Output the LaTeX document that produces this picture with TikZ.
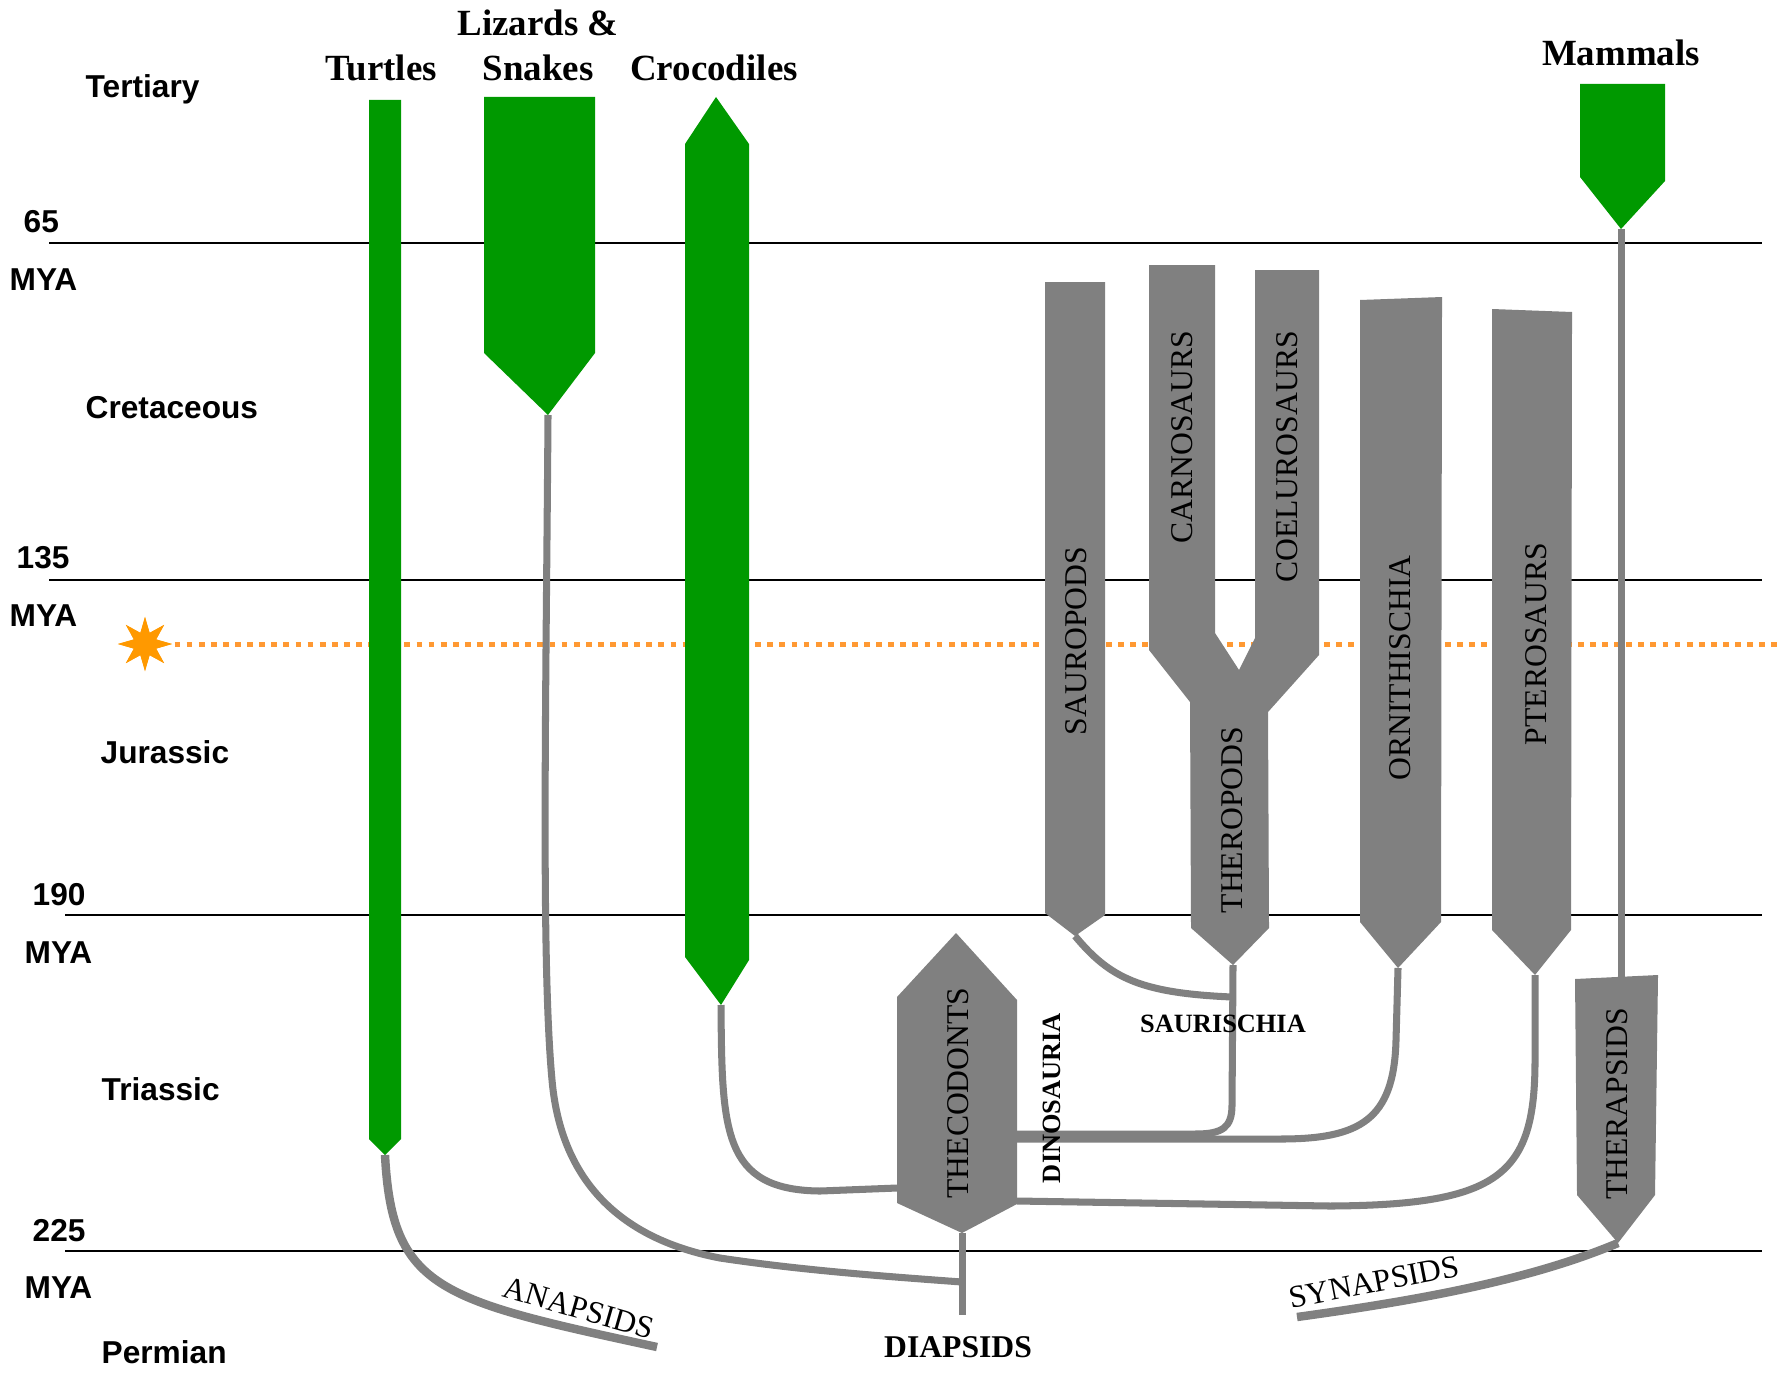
\documentclass[tikz,border=0pt]{standalone}
\usepackage{fontspec}
\setmainfont{Liberation Serif}
\setsansfont{Liberation Sans}
\usetikzlibrary{shapes.geometric}
\definecolor{grn}{HTML}{009900}
\definecolor{gry}{HTML}{808080}
\definecolor{dotor}{HTML}{FF9933}
\definecolor{staror}{HTML}{FF9900}
\begin{document}
\begin{tikzpicture}[x=0.01cm,y=-0.01cm,
  era/.style={font=\sffamily\bfseries\fontsize{9}{10}\selectfont, anchor=base west, inner sep=0},
  title/.style={font=\bfseries\fontsize{10.5}{12}\selectfont, anchor=base, inner sep=0},
  grp/.style={font=\fontsize{9}{10}\selectfont, rotate=90, inner sep=0},
  bgrp/.style={font=\bfseries\fontsize{7.5}{9}\selectfont, inner sep=0},
  tline/.style={black, line width=0.5pt},
  conn/.style={gry, line width=2pt},
  thickconn/.style={gry, line width=2.4pt},
  greenbar/.style={fill=grn},
  graybar/.style={fill=gry},
  dotline/.style={dotor, line width=1.42pt, dash pattern=on 1.65pt off 1.79pt},
]
% canvas
\fill[white] (0,0) rectangle (1777,1376);
\useasboundingbox (0,0) rectangle (1777,1376);

% time lines
\coordinate (l65a) at (49,243);   \coordinate (l65b) at (1762,243);
\coordinate (l135a) at (49,580);  \coordinate (l135b) at (1762,580);
\coordinate (l190a) at (65,915);  \coordinate (l190b) at (1762,915);
\coordinate (l225a) at (65,1251); \coordinate (l225b) at (1762,1251);
\draw[tline] (l65a) -- (l65b);
\draw[tline] (l135a) -- (l135b);
\draw[tline] (l190a) -- (l190b);
\draw[tline] (l225a) -- (l225b);

% extinction marker
\coordinate (dotEnd) at (1777,644);
\node[star, star points=8, star point ratio=2.25, fill=staror, minimum size=0.54cm, inner sep=0] (sun) at (145,644) {};
\draw[dotline] (sun.east) -- (dotEnd);
\node[star, star points=8, star point ratio=2.25, fill=staror, minimum size=0.54cm, inner sep=0] at (sun) {};

% key points
\coordinate (turtleTip) at (385,1155);
\coordinate (lizTip) at (548,415);
\coordinate (crocTip) at (721,1005);
\coordinate (mamTip) at (1621,229);
\coordinate (sauTip) at (1075,936);
\coordinate (theTip) at (1233,965);
\coordinate (ornTip) at (1398,968);
\coordinate (ptTip) at (1535,975);
\coordinate (thpTop) at (1621,977);
\coordinate (thpTip) at (1618,1243);
\coordinate (thcBot) at (962,1233);
\coordinate (thcL) at (897,1188);
\coordinate (thcR1) at (1017,1134);
\coordinate (thcR1b) at (1017,1139);
\coordinate (thcR2) at (1017,1201);
\coordinate (diapEnd) at (962,1315);
\coordinate (diapJoin) at (962,1282);
\coordinate (anaEnd) at (657,1347);
\coordinate (synStart) at (1297,1317);
\coordinate (sauJoin) at (1232,997);

% connectors
\draw[thickconn] (turtleTip) .. controls (392,1290) and (440,1300) .. (anaEnd);
\draw[conn] (lizTip) .. controls (546,700) and (541,960) .. (552,1080)
   .. controls (559,1160) and (600,1235) .. (720,1258)
   .. controls (800,1270) and (880,1276) .. (diapJoin);
\draw[conn] (thcBot) -- (diapEnd);
\draw[conn] (crocTip) .. controls (722,1130) and (722,1190) .. (820,1191) -- (thcL);
\draw[conn] (sauTip) .. controls (1110,978) and (1140,993) .. (sauJoin);
\draw[conn] (theTip) -- (1232,1105) .. controls (1232,1128) and (1222,1134) .. (1195,1134) -- (thcR1);
\draw[conn] (ornTip) -- (1396,1040) .. controls (1394,1120) and (1360,1139) .. (1280,1139) -- (thcR1b);
\draw[conn] (ptTip) -- (1535,1060) .. controls (1535,1175) and (1500,1205) .. (1330,1206) -- (thcR2);
\draw[thickconn] (synStart) .. controls (1420,1300) and (1530,1280) .. (thpTip);
\draw[conn] (mamTip) -- (thpTop);

% green lineages
\fill[greenbar] (369,100) -- (401,100) -- (401,1139) -- (turtleTip) -- (369,1139) -- cycle;
\fill[greenbar] (484,97) -- (595,97) -- (595,353) -- (lizTip) -- (484,353) -- cycle;
\fill[greenbar] (716,97) -- (749,144) -- (749,960) -- (crocTip) -- (685,957) -- (685,144) -- cycle;
\fill[greenbar] (1580,84) -- (1665,84) -- (1665,181) -- (mamTip) -- (1580,177) -- cycle;

% gray lineages
\fill[graybar] (1045,282) -- (1105,282) -- (1105,915) -- (sauTip) -- (1045,913) -- cycle;
\fill[graybar] (1149,265) -- (1215,265) -- (1215,633) -- (1239,670) -- (1255,638) -- (1255,270)
   -- (1319,270) -- (1319,655) -- (1268,712) -- (1269,928) -- (theTip) -- (1191,928)
   -- (1190,702) -- (1149,650) -- cycle;
\fill[graybar] (1360,300) -- (1442,297) -- (1441,922) -- (ornTip) -- (1360,922) -- cycle;
\fill[graybar] (1492,309) -- (1572,312) -- (1571,930) -- (ptTip) -- (1492,930) -- cycle;
\fill[graybar] (1575,979) -- (1658,975) -- (1655,1195) -- (thpTip) -- (1577,1195) -- cycle;
\fill[graybar] (956,933) -- (1017,1000) -- (1017,1204) -- (thcBot) -- (897,1203) -- (897,997) -- cycle;

% era labels
\node[era] (tert) at (85,98) {Tertiary};
\node[era] (n65) at (23,232) {65};
\node[era] (mya1) at (9,290) {MYA};
\node[era] (cret) at (85,418) {Cretaceous};
\node[era] (n135) at (16,568) {135};
\node[era] (mya2) at (9,626) {MYA};
\node[era] (jur) at (100,763) {Jurassic};
\node[era] (n190) at (32,905) {190};
\node[era] (mya3) at (24,963) {MYA};
\node[era] (tri) at (101,1100) {Triassic};
\node[era] (n225) at (32,1241) {225};
\node[era] (mya4) at (24,1298) {MYA};
\node[era] (perm) at (101,1363) {Permian};

% titles
\node[title] (tliz) at (538,36) {Lizards \&};
\node[title] (tsna) at (538,81) {Snakes};
\node[title] (ttur) at (381,81) {Turtles};
\node[title] (tcro) at (714,81) {Crocodiles};
\node[title] (tmam) at (1621,66) {Mammals};

% group labels
\node[grp] (lsau) at (1076,641) {SAUROPODS};
\node[grp] (lcar) at (1182,437) {CARNOSAURS};
\node[grp] (lcoe) at (1287,457) {COELUROSAURS};
\node[grp] (lthe) at (1232,820) {THEROPODS};
\node[grp] (lorn) at (1400,668) {ORNITHISCHIA};
\node[grp] (lpte) at (1536,644) {PTEROSAURS};
\node[grp] (lthp) at (1617,1104) {THERAPSIDS};
\node[grp] (lthc) at (958,1093) {THECODONTS};
\node[bgrp, rotate=90] (ldin) at (1052,1098) {DINOSAURIA};
\node[bgrp, anchor=base] (lsch) at (1223,1032) {SAURISCHIA};
\node[font=\bfseries\fontsize{9}{10}\selectfont, anchor=base, inner sep=0] (ldia) at (958,1357) {DIAPSIDS};
\node[font=\fontsize{9}{10}\selectfont, rotate=-16, inner sep=0] (lana) at (579,1308) {ANAPSIDS};
\node[font=\fontsize{9}{10}\selectfont, rotate=11, inner sep=0] (lsyn) at (1374,1282) {SYNAPSIDS};
\end{tikzpicture}
\end{document}
